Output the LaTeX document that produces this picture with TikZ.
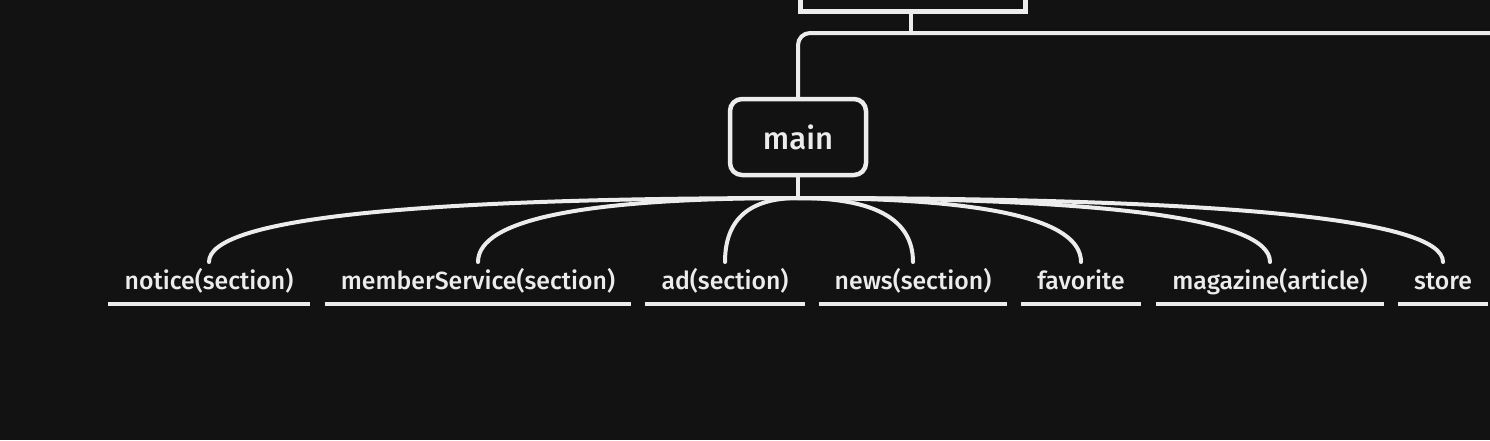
\documentclass[tikz,border=0pt]{standalone}
\usepackage{fontspec}
\setmainfont{Fira Sans}[UprightFont={* Medium}]
\usetikzlibrary{calc}
\definecolor{bg}{HTML}{121212}
\definecolor{fg}{HTML}{ECECEC}
\tikzset{
  edge/.style={draw=fg, line width=4pt},
  mainbox/.style={draw=fg, line width=4.5pt, rounded corners=12pt, minimum width=136pt, minimum height=76pt, inner sep=0pt, text=fg, font=\fontsize{31}{36}\selectfont},
  topbox/.style={draw=fg, line width=5pt, minimum width=225pt, minimum height=63pt, inner sep=0pt},
  lbl/.style={text=fg, inner xsep=16pt, inner ysep=0pt, text height=23pt, text depth=6pt, font=\fontsize{24.8}{29}\selectfont},
  uline/.style={draw=fg, line width=4pt}
}
\begin{document}
\begin{tikzpicture}[x=1pt,y=-1pt]
\fill[bg] (0,0) rectangle (1490,440);
\useasboundingbox (0,0) rectangle (1490,440);
\clip (0,0) rectangle (1490,440);
% nodes
\node[topbox] (top) at (913,-20) {};
\node[mainbox] (main) at (798,137) {main};
\coordinate (j) at (911,33);
\coordinate (off) at (1510,33);
\coordinate (hub) at (798,198);
\node[lbl] (notice) at (209,281) {notice(section)};
\node[lbl] (memberService) at (478,281) {memberService(section)};
\node[lbl] (ad) at (725,281) {ad(section)};
\node[lbl] (news) at (913,281) {news(section)};
\node[lbl] (favorite) at (1081,281) {favorite};
\node[lbl] (magazine) at (1270,281) {magazine(article)};
\node[lbl] (store) at (1443,281) {store};
% connectors
\draw[edge] (top.south -| j) -- (j);
\draw[edge, rounded corners=12pt] (off) -- (main.north |- j) -- (main.north);
\draw[edge] (main.south) -- (hub);
\foreach \n in {notice,memberService,ad,news,favorite,magazine,store}{
  \coordinate (\n-in) at ($(\n.center)+(0,-19)$);
  \coordinate (\n-c) at (\n-in |- hub);
  \draw[edge, line cap=round] (hub) .. controls ($(hub)!0.667!(\n-c)$) and ($(\n-in)!0.667!(\n-c)$) .. (\n-in);
  \draw[uline] ($(\n.west)+(0,23)$) -- ($(\n.east)+(0,23)$);
}
\end{tikzpicture}
\end{document}
